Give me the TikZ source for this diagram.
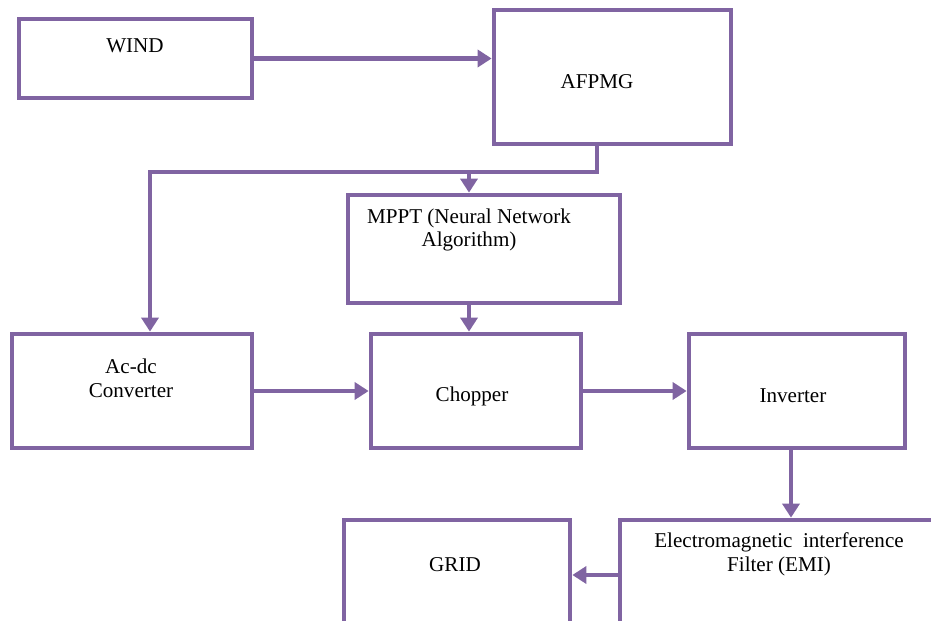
\documentclass[tikz,border=0pt]{standalone}
\usepackage{fontspec}
\setmainfont{Liberation Serif}
\usetikzlibrary{arrows.meta}
\definecolor{boxpurple}{RGB}{128,100,162}
\tikzset{
	blockbox/.style={draw=boxpurple, line width=0.095cm, rectangle, inner sep=0pt},
	blocktext/.style={align=center, inner sep=0pt, font=\fontsize{12}{13.6}\selectfont},
	flow/.style={draw=boxpurple, line width=0.095cm, -{Triangle[length=0.28cm, width=0.34cm]}},
	trunk/.style={draw=boxpurple, line width=0.095cm}
}

\begin{document}
\begin{tikzpicture}[x=0.02cm, y=-0.02cm]
		%%%%% FRAME %%%%%
		\useasboundingbox (0, 0) rectangle (931, 621);
		\clip (0, 0) rectangle (931, 621);
		
		%%%%% BLOCKS %%%%%
		\node[blockbox, minimum width=4.66cm, minimum height=1.58cm] (wind) at (135.5, 58.5) {};
		\node[blockbox, minimum width=4.74cm, minimum height=2.68cm] (afpmg) at (612.5, 77) {};
		\node[blockbox, minimum width=5.44cm, minimum height=2.16cm] (mppt) at (484, 249) {};
		\node[blockbox, minimum width=4.80cm, minimum height=2.28cm] (acdc) at (132, 391) {};
		\node[blockbox, minimum width=4.20cm, minimum height=2.28cm] (chopper) at (476, 391) {};
		\node[blockbox, minimum width=4.32cm, minimum height=2.28cm] (inverter) at (797, 391) {};
		\node[blockbox, minimum width=6.80cm, minimum height=2.40cm] (emi) at (790, 580) {};
		\node[blockbox, minimum width=4.52cm, minimum height=2.40cm] (grid) at (457, 580) {};
		
		%%%%% TEXTS %%%%%
		\node[blocktext] (windtext) at (135, 46) {WIND};
		\node[blocktext] (afpmgtext) at (597, 82) {AFPMG};
		\node[blocktext] (mppttext) at (469, 230) {MPPT (Neural Network\\Algorithm)};
		\node[blocktext] (acdctext) at (131, 378) {Ac-dc\\Converter};
		\node[blocktext] (choppertext) at (472, 396) {Chopper};
		\node[blocktext] (invertertext) at (793, 396) {Inverter};
		\node[blocktext] (emitext) at (779, 554) {Electromagnetic~~interference\\Filter (EMI)};
		\node[blocktext] (gridtext) at (455, 565) {GRID};
		
		%%%%% CONNECTORS %%%%%
		\coordinate (split) at (597, 172);
		\coordinate (fork) at (469, 172);
		\coordinate (corner) at (150, 172);
		
		\draw[flow] (wind.east) -- (wind.east -| afpmg.west);
		\draw[flow] (split |- afpmg.south) -- (split) -- (corner) -- (corner |- acdc.north);
		\draw[flow] (fork) -- (fork |- mppt.north);
		\draw[flow] (fork |- mppt.south) -- (fork |- chopper.north);
		\draw[flow] (acdc.east) -- (chopper.west);
		\draw[flow] (chopper.east) -- (inverter.west);
		\draw[flow] (791, 448) coordinate (invout) -- (invout |- emi.north);
		\draw[flow] (emi.west |- 0, 575) coordinate (emiout) -- (emiout -| grid.east);
\end{tikzpicture}
\end{document}
